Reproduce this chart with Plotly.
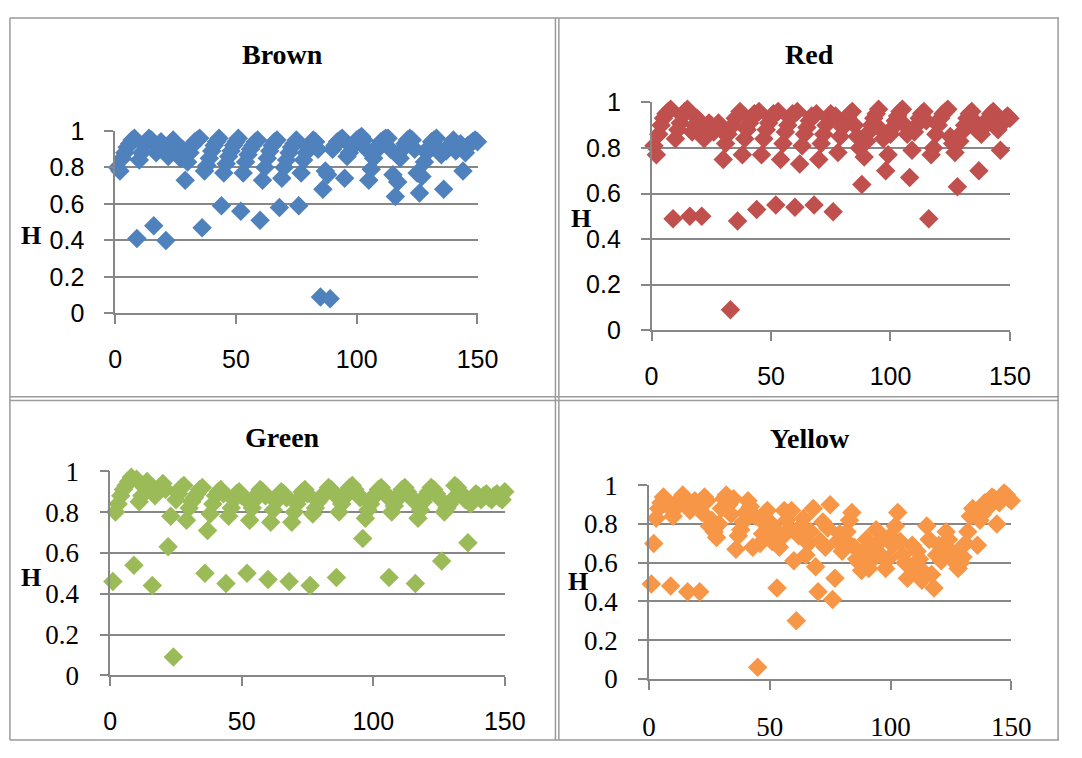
import plotly.graph_objects as go

# ---------------- data ----------------
sample_no = list(range(1, 151))

brown_h = [
    0.80, 0.78, 0.85, 0.88, 0.91, 0.93, 0.95, 0.96, 0.41, 0.84,
    0.88, 0.92, 0.94, 0.96, 0.95, 0.48, 0.88, 0.91, 0.94, 0.92,
    0.40, 0.86, 0.90, 0.95, 0.93, 0.88, 0.85, 0.90, 0.73, 0.83,
    0.88, 0.92, 0.94, 0.95, 0.96, 0.47, 0.78, 0.81, 0.85, 0.89,
    0.92, 0.94, 0.96, 0.59, 0.77, 0.82, 0.86, 0.89, 0.92, 0.94,
    0.96, 0.56, 0.77, 0.83, 0.87, 0.90, 0.92, 0.94, 0.95, 0.51,
    0.73, 0.80, 0.85, 0.89, 0.92, 0.94, 0.95, 0.58, 0.74, 0.80,
    0.84, 0.88, 0.91, 0.93, 0.95, 0.59, 0.77, 0.84, 0.88, 0.91,
    0.93, 0.95, 0.94, 0.90, 0.09, 0.68, 0.78, 0.76, 0.08, 0.90,
    0.92, 0.94, 0.95, 0.96, 0.74, 0.86, 0.88, 0.91, 0.93, 0.95,
    0.96, 0.97, 0.95, 0.90, 0.73, 0.79, 0.85, 0.89, 0.92, 0.94,
    0.95, 0.96, 0.96, 0.90, 0.76, 0.64, 0.72, 0.85, 0.90, 0.93,
    0.95, 0.96, 0.95, 0.90, 0.77, 0.66, 0.75, 0.83, 0.88, 0.91,
    0.94, 0.95, 0.96, 0.90, 0.87, 0.68, 0.89, 0.91, 0.93, 0.95,
    0.89, 0.91, 0.93, 0.78, 0.88, 0.92, 0.93, 0.94, 0.95, 0.94,
]

red_h = [
    0.81, 0.77, 0.86, 0.90, 0.93, 0.95, 0.96, 0.97, 0.49, 0.84,
    0.88, 0.91, 0.94, 0.96, 0.97, 0.50, 0.87, 0.90, 0.93, 0.92,
    0.50, 0.84, 0.88, 0.91, 0.90, 0.87, 0.89, 0.91, 0.88, 0.75,
    0.82, 0.86, 0.09, 0.90, 0.93, 0.48, 0.96, 0.77, 0.84, 0.88,
    0.91, 0.93, 0.95, 0.53, 0.96, 0.77, 0.84, 0.88, 0.91, 0.93,
    0.95, 0.55, 0.96, 0.75, 0.82, 0.87, 0.90, 0.93, 0.95, 0.54,
    0.96, 0.73, 0.81, 0.86, 0.89, 0.92, 0.94, 0.55, 0.95, 0.75,
    0.82, 0.86, 0.90, 0.93, 0.95, 0.52, 0.94, 0.78, 0.85, 0.89,
    0.91, 0.93, 0.95, 0.96, 0.90, 0.85, 0.80, 0.64, 0.76, 0.83,
    0.87, 0.90, 0.93, 0.95, 0.97, 0.88, 0.84, 0.70, 0.77, 0.86,
    0.89, 0.92, 0.94, 0.96, 0.97, 0.90, 0.86, 0.67, 0.79, 0.87,
    0.90, 0.93, 0.95, 0.96, 0.92, 0.49, 0.77, 0.80, 0.86, 0.90,
    0.93, 0.95, 0.96, 0.97, 0.85, 0.82, 0.78, 0.63, 0.83, 0.87,
    0.90, 0.93, 0.95, 0.96, 0.92, 0.88, 0.70, 0.86, 0.89, 0.91,
    0.93, 0.95, 0.96, 0.90, 0.88, 0.79, 0.91, 0.93, 0.94, 0.93,
]

green_h = [
    0.46, 0.80, 0.84, 0.88, 0.91, 0.93, 0.95, 0.97, 0.54, 0.96,
    0.85, 0.88, 0.92, 0.95, 0.93, 0.44, 0.88, 0.90, 0.92, 0.94,
    0.91, 0.63, 0.78, 0.09, 0.86, 0.89, 0.92, 0.93, 0.76, 0.82,
    0.85, 0.87, 0.89, 0.91, 0.92, 0.50, 0.71, 0.79, 0.84, 0.88,
    0.90, 0.91, 0.89, 0.45, 0.78, 0.82, 0.86, 0.89, 0.90, 0.88,
    0.87, 0.50, 0.76, 0.82, 0.86, 0.89, 0.91, 0.90, 0.88, 0.47,
    0.75, 0.81, 0.85, 0.88, 0.90, 0.89, 0.87, 0.46, 0.75, 0.80,
    0.84, 0.87, 0.90, 0.91, 0.89, 0.44, 0.79, 0.82, 0.85, 0.87,
    0.88, 0.90, 0.92, 0.91, 0.89, 0.48, 0.80, 0.84, 0.87, 0.90,
    0.92, 0.93, 0.91, 0.89, 0.87, 0.67, 0.77, 0.81, 0.84, 0.87,
    0.89, 0.91, 0.92, 0.90, 0.88, 0.48, 0.80, 0.83, 0.86, 0.89,
    0.91, 0.92, 0.90, 0.88, 0.86, 0.45, 0.77, 0.81, 0.85, 0.88,
    0.90, 0.92, 0.91, 0.89, 0.87, 0.56, 0.80, 0.82, 0.84, 0.86,
    0.93, 0.92, 0.90, 0.88, 0.86, 0.65, 0.84, 0.87, 0.89, 0.88,
    0.86, 0.88, 0.89, 0.87, 0.86, 0.88, 0.89, 0.87, 0.86, 0.90,
]

yellow_h = [
    0.49, 0.70, 0.83, 0.88, 0.91, 0.94, 0.92, 0.89, 0.48, 0.84,
    0.88, 0.91, 0.93, 0.95, 0.92, 0.45, 0.87, 0.90, 0.92, 0.89,
    0.45, 0.86, 0.94, 0.92, 0.79, 0.82, 0.76, 0.73, 0.80, 0.88,
    0.93, 0.95, 0.90, 0.85, 0.93, 0.67, 0.74, 0.77, 0.81, 0.86,
    0.92, 0.89, 0.68, 0.84, 0.06, 0.70, 0.75, 0.80, 0.87, 0.81,
    0.71, 0.78, 0.47, 0.68, 0.73, 0.87, 0.82, 0.77, 0.87, 0.61,
    0.30, 0.74, 0.79, 0.83, 0.64, 0.70, 0.76, 0.88, 0.58, 0.45,
    0.71, 0.81, 0.68, 0.78, 0.90, 0.41, 0.52, 0.71, 0.75, 0.66,
    0.72, 0.76, 0.82, 0.86, 0.68, 0.62, 0.60, 0.56, 0.66, 0.72,
    0.57, 0.61, 0.67, 0.77, 0.70, 0.64, 0.73, 0.57, 0.62, 0.74,
    0.69, 0.79, 0.86, 0.71, 0.64, 0.60, 0.52, 0.58, 0.69, 0.57,
    0.66, 0.62, 0.51, 0.55, 0.79, 0.72, 0.54, 0.47, 0.64, 0.69,
    0.61, 0.68, 0.76, 0.72, 0.66, 0.61, 0.65, 0.57, 0.60, 0.63,
    0.70, 0.76, 0.84, 0.88, 0.86, 0.69, 0.82, 0.85, 0.91, 0.88,
    0.90, 0.94, 0.93, 0.80, 0.91, 0.94, 0.96, 0.95, 0.93, 0.92,
]

panel_titles = ["Brown", "Red", "Green", "Yellow"]
x_ticks = [0, 50, 100, 150]
y_ticks = [0, 0.2, 0.4, 0.6, 0.8, 1]
y_tick_text = ["0", "0.2", "0.4", "0.6", "0.8", "1"]
y_label = "H"

# ---------------- layout helpers ----------------
W, H = 1082, 758

def px_x(v):
    return v / W

def px_y(v):
    return 1 - v / H

SANS = "Liberation Sans, Arial, sans-serif"
SERIF = "Liberation Serif, Times New Roman, serif"
GRID = "#878787"

# panel geometry in pixels: (x0, x1, ytop, ybottom)
panels = [
    dict(title=panel_titles[0], y=brown_h, color="#4F81BD", box=(111, 483, 120.7, 310.7),
         xfont=SANS, yfont=SANS, title_xy=(283, 41), h_xy=(25, 230)),
    dict(title=panel_titles[1], y=red_h, color="#C0504D", box=(661.7, 1029.6, 91, 328.3),
         xfont=SANS, yfont=SANS, title_xy=(824, 41), h_xy=(589, 212)),
    dict(title=panel_titles[2], y=green_h, color="#9BBB59", box=(106, 511, 475, 687.7),
         xfont=SANS, yfont=SERIF, title_xy=(283, 440), h_xy=(25, 586)),
    dict(title=panel_titles[3], y=yellow_h, color="#F79646", box=(659, 1031, 489.7, 691.3),
         xfont=SERIF, yfont=SERIF, title_xy=(824, 441), h_xy=(586, 590)),
]

fig = go.Figure()
annotations = []
for i, p in enumerate(panels):
    k = "" if i == 0 else str(i + 1)
    x0, x1, yt, yb = p["box"]
    fig.add_trace(go.Scatter(
        x=sample_no, y=p["y"], mode="markers",
        marker=dict(symbol="diamond", size=15, color=p["color"], line=dict(width=0)),
        xaxis="x" + k, yaxis="y" + k, cliponaxis=False, showlegend=False,
        hoverinfo="x+y",
    ))
    xsize = 25 if p["xfont"] == SANS else 27
    ysize = 25 if p["yfont"] == SANS else 27
    fig.layout["xaxis" + k] = dict(
        domain=[px_x(x0), px_x(x1)], anchor="y" + k, range=[0, 150],
        tickmode="array", tickvals=x_ticks, ticks="outside", ticklen=9,
        tickwidth=1.5, tickcolor=GRID, showline=True, linecolor=GRID, linewidth=1.5,
        showgrid=False, zeroline=False,
        tickfont=dict(family=p["xfont"], size=xsize, color="black"),
        ticklabelstandoff=14, fixedrange=True,
    )
    fig.layout["yaxis" + k] = dict(
        domain=[px_y(yb), px_y(yt)], anchor="x" + k, range=[0, 1],
        tickmode="array", tickvals=y_ticks, ticktext=y_tick_text,
        ticks="outside", ticklen=9, tickwidth=1.5, tickcolor=GRID,
        showline=True, linecolor=GRID, linewidth=1.5,
        showgrid=True, gridcolor=GRID, gridwidth=1.5, zeroline=False,
        tickfont=dict(family=p["yfont"], size=ysize, color="black"),
        ticklabelstandoff=15, fixedrange=True,
    )
    tx, ty = p["title_xy"]
    annotations.append(dict(
        text="<b>%s</b>" % p["title"], x=px_x(tx), y=px_y(ty), xref="paper", yref="paper",
        xanchor="center", yanchor="middle", showarrow=False,
        font=dict(family=SERIF, size=28, color="black"),
    ))
    hx, hy = p["h_xy"]
    annotations.append(dict(
        text="<b>%s</b>" % y_label, x=px_x(hx), y=px_y(hy), xref="paper", yref="paper",
        xanchor="center", yanchor="middle", showarrow=False, borderpad=0,
        font=dict(family=SERIF, size=26, color="black"),
    ))

# frame lines (table / chart borders), in pixels
BORDER = "#9A9A9A"
frame_lines = [
    (3, 3, 1080, 3), (3, 755, 1080, 755),
    (3, 3, 3, 755), (1079, 3, 1079, 755),
    (563, 3, 563, 755), (566.5, 3, 566.5, 755),
    (3, 397.5, 1080, 397.5), (3, 401.5, 1080, 401.5),
]
shapes = []
for (ax0, ay0, ax1, ay1) in frame_lines:
    shapes.append(dict(type="line", xref="paper", yref="paper",
                       x0=px_x(ax0), y0=px_y(ay0), x1=px_x(ax1), y1=px_y(ay1),
                       line=dict(color=BORDER, width=1.5), layer="below"))

fig.update_layout(
    width=W, height=H, margin=dict(l=0, r=0, t=0, b=0),
    paper_bgcolor="white", plot_bgcolor="white",
    annotations=annotations, shapes=shapes, showlegend=False,
)

fig.write_html("out.html", config={"displayModeBar": False},
               post_script="document.body.style.margin='0';document.body.style.overflow='hidden';")
